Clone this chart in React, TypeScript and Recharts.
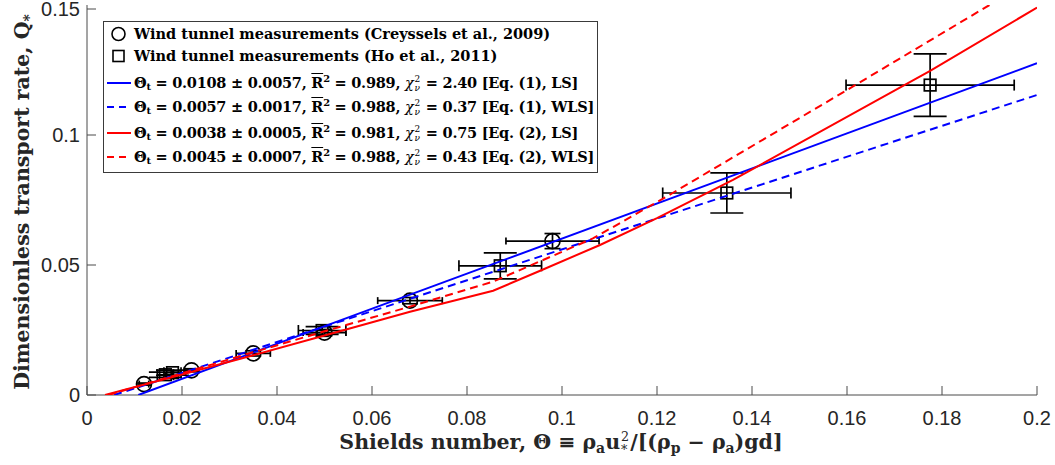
import React from 'react'
import { ScatterChart, Scatter, XAxis, YAxis, ErrorBar } from 'recharts'

const xTicks = [0, 0.02, 0.04, 0.06, 0.08, 0.1, 0.12, 0.14, 0.16, 0.18, 0.2]
const yTicks = [0, 0.05, 0.1, 0.15]

// Creyssels et al. (2009)
const creysselsTheta = [0.012, 0.022, 0.035, 0.05, 0.068, 0.098]
const creysselsQ = [0.0042, 0.0095, 0.016, 0.024, 0.0363, 0.0592]
const creysselsErrTheta = [0.001, 0.0015, 0.0036, 0.0045, 0.0068, 0.0098]
const creysselsErrQ = [0.0004, 0.0006, 0.001, 0.0012, 0.0012, 0.0029]

// Ho et al. (2011)
const hoTheta = [0.0165, 0.018, 0.0495, 0.087, 0.1347, 0.1775]
const hoQ = [0.0078, 0.0086, 0.0248, 0.0497, 0.0777, 0.1192]
const hoErrTheta = [0.0017, 0.0018, 0.005, 0.0087, 0.0135, 0.0177]
const hoErrQ = [0.001, 0.001, 0.0015, 0.005, 0.0077, 0.012]

// fits
const eq1LsTheta = [0.0108, 0.2]
const eq1LsQ = [0, 0.1276]
const eq1WlsTheta = [0.0057, 0.2]
const eq1WlsQ = [0, 0.1154]
const eq2LsTheta = [0.0038, 0.02, 0.035, 0.05, 0.068, 0.0855, 0.0954, 0.108, 0.12, 0.136, 0.1775, 0.2]
const eq2LsQ = [0, 0.0079, 0.0153, 0.0229, 0.032, 0.0401, 0.0478, 0.0577, 0.068, 0.0827, 0.1247, 0.149]
const eq2WlsTheta = [0.0045, 0.05, 0.068, 0.0855, 0.1066, 0.122, 0.16, 0.19]
const eq2WlsQ = [0, 0.0245, 0.034, 0.0436, 0.0603, 0.0763, 0.1173, 0.15]

const BLUE = '#0000ff'
const RED = '#ff0000'
const AXIS = '#4a4a4a'
const TXT = '#262626'
const SANS = '"Liberation Sans", Arial, sans-serif'
const SERIF = '"DejaVu Serif", serif'
const LW = 2

const points = (xs: number[], ys: number[], ex?: number[], ey?: number[]) =>
  xs.map((x, i) => ({ x, y: ys[i], ex: ex ? ex[i] : 0, ey: ey ? ey[i] : 0 }))

const fmt = (v: number) => String(Number(v.toFixed(3)))

const BottomTick = (props: any) => {
  const { x, y, payload } = props
  return (
    <g>
      <line x1={x} x2={x} y1={y} y2={y - 9} stroke={AXIS} />
      <text x={x} y={y + 30} textAnchor="middle" fontFamily={SANS} fontSize={20} fill={TXT}>
        {fmt(payload.value)}
      </text>
    </g>
  )
}

const TopTick = (props: any) => {
  const { x, y } = props
  return <line x1={x} x2={x} y1={y} y2={y + 9} stroke={AXIS} />
}

const LeftTick = (props: any) => {
  const { x, y, payload } = props
  return (
    <g>
      <line x1={x} x2={x + 9} y1={y} y2={y} stroke={AXIS} />
      <text x={x - 7} y={y + 7} textAnchor="end" fontFamily={SANS} fontSize={20} fill={TXT}>
        {fmt(payload.value)}
      </text>
    </g>
  )
}

const RightTick = (props: any) => {
  const { x, y } = props
  return <line x1={x} x2={x - 9} y1={y} y2={y} stroke={AXIS} />
}

const CircleMark = (props: any) => (
  <circle cx={props.cx} cy={props.cy} r={7.5} fill="none" stroke="#000" strokeWidth={1.7} />
)
const SquareMark = (props: any) => (
  <rect x={props.cx - 5.8} y={props.cy - 5.8} width={11.6} height={11.6} fill="none" stroke="#000" strokeWidth={1.7} />
)
const NoMark = () => <g />

function SupSub({ sup, sub }: { sup: string; sub: string }) {
  return (
    <span
      style={{
        display: 'inline-flex',
        flexDirection: 'column',
        verticalAlign: 'middle',
        fontSize: '0.62em',
        lineHeight: 1,
        margin: '0 1px',
        fontWeight: 400,
        fontStyle: 'italic',
      }}
    >
      <span style={{ fontStyle: 'normal' }}>{sup}</span>
      <span>{sub}</span>
    </span>
  )
}

const small: React.CSSProperties = { fontSize: '0.68em', lineHeight: 0, position: 'relative' }

function FitText({ t, err, r2, chi, eq, kind }: any) {
  return (
    <span style={{ letterSpacing: '-0.25px' }}>
      Θ<span style={{ ...small, top: '0.3em' }}>t</span> = {t} ± {err},{' '}
      <span style={{ textDecoration: 'overline' }}>R</span>
      <span style={{ ...small, top: '-0.6em' }}>2</span> = {r2},{' '}
      <i style={{ fontWeight: 400 }}>χ</i>
      <SupSub sup="2" sub="ν" /> = {chi} [Eq. ({eq}), {kind}]
    </span>
  )
}

function LegendBox() {
  const rows: { c: number; sample: React.ReactNode; text: React.ReactNode }[] = [
    {
      c: 11.5,
      sample: <circle cx={14.5} cy={11} r={6.5} fill="none" stroke="#000" strokeWidth={1.6} />,
      text: 'Wind tunnel measurements (Creyssels et al., 2009)',
    },
    {
      c: 33.5,
      sample: <rect x={9} y={5.5} width={11} height={11} fill="none" stroke="#000" strokeWidth={1.6} />,
      text: 'Wind tunnel measurements (Ho et al., 2011)',
    },
    {
      c: 61,
      sample: <line x1={3} x2={27} y1={11} y2={11} stroke={BLUE} strokeWidth={LW} />,
      text: <FitText t="0.0108" err="0.0057" r2="0.989" chi="2.40" eq="1" kind="LS" />,
    },
    {
      c: 85,
      sample: <line x1={3} x2={27} y1={11} y2={11} stroke={BLUE} strokeWidth={LW} strokeDasharray="7 5" />,
      text: <FitText t="0.0057" err="0.0017" r2="0.988" chi="0.37" eq="1" kind="WLS" />,
    },
    {
      c: 111,
      sample: <line x1={3} x2={27} y1={11} y2={11} stroke={RED} strokeWidth={LW} />,
      text: <FitText t="0.0038" err="0.0005" r2="0.981" chi="0.75" eq="2" kind="LS" />,
    },
    {
      c: 135,
      sample: <line x1={3} x2={27} y1={11} y2={11} stroke={RED} strokeWidth={LW} strokeDasharray="7 5" />,
      text: <FitText t="0.0045" err="0.0007" r2="0.988" chi="0.43" eq="2" kind="WLS" />,
    },
  ]
  return (
    <div
      style={{
        position: 'absolute',
        left: 103,
        top: 21,
        width: 495,
        height: 152,
        boxSizing: 'border-box',
        border: '1px solid #3a3a3a',
        background: '#fff',
        fontFamily: SERIF,
        fontWeight: 700,
        fontSize: 14.5,
        color: '#000',
      }}
    >
      {rows.map((r, i) => (
        <div
          key={i}
          style={{ position: 'absolute', left: 0, top: r.c - 11, height: 22, display: 'flex', alignItems: 'center', whiteSpace: 'nowrap' }}
        >
          <svg width={30} height={22} style={{ flex: 'none' }}>
            {r.sample}
          </svg>
          {r.text}
        </div>
      ))}
    </div>
  )
}

export default function App() {
  const creyssels = points(creysselsTheta, creysselsQ, creysselsErrTheta, creysselsErrQ)
  const ho = points(hoTheta, hoQ, hoErrTheta, hoErrQ)
  const eq1Ls = points(eq1LsTheta, eq1LsQ)
  const eq1Wls = points(eq1WlsTheta, eq1WlsQ)
  const eq2Ls = points(eq2LsTheta, eq2LsQ)
  const eq2Wls = points(eq2WlsTheta, eq2WlsQ)

  return (
    <div style={{ position: 'absolute', left: 0, top: 0, width: 1055, height: 465, background: '#fff' }}>
      <ScatterChart width={1055} height={465} margin={{ top: 5, right: 18, bottom: 0, left: 0 }}>
        <XAxis
          xAxisId="b"
          type="number"
          dataKey="x"
          domain={[0, 0.2]}
          ticks={xTicks}
          allowDataOverflow
          height={70}
          tickSize={0}
          tickMargin={0}
          tickLine={false}
          axisLine={{ stroke: AXIS }}
          tick={<BottomTick />}
        />
        <XAxis
          xAxisId="t"
          orientation="top"
          type="number"
          dataKey="x"
          domain={[0, 0.2]}
          ticks={xTicks}
          allowDataOverflow
          height={0}
          tickSize={0}
          tickMargin={0}
          tickLine={false}
          axisLine={{ stroke: AXIS }}
          tick={<TopTick />}
        />
        <YAxis
          yAxisId="l"
          type="number"
          dataKey="y"
          domain={[0, 0.15]}
          ticks={yTicks}
          allowDataOverflow
          width={87}
          tickSize={0}
          tickMargin={0}
          tickLine={false}
          axisLine={{ stroke: AXIS }}
          tick={<LeftTick />}
        />
        <YAxis
          yAxisId="r"
          orientation="right"
          type="number"
          dataKey="y"
          domain={[0, 0.15]}
          ticks={yTicks}
          allowDataOverflow
          width={0}
          tickSize={0}
          tickMargin={0}
          tickLine={false}
          axisLine={{ stroke: AXIS }}
          tick={<RightTick />}
        />
        <Scatter xAxisId="b" yAxisId="l" data={creyssels} shape={<CircleMark />} isAnimationActive={false}>
          <ErrorBar dataKey="ex" direction="x" width={3.5} stroke="#000" strokeWidth={1.7} />
          <ErrorBar dataKey="ey" direction="y" width={8} stroke="#000" strokeWidth={1.7} />
        </Scatter>
        <Scatter xAxisId="b" yAxisId="l" data={ho} shape={<SquareMark />} isAnimationActive={false}>
          <ErrorBar dataKey="ex" direction="x" width={5.5} stroke="#000" strokeWidth={1.7} />
          <ErrorBar dataKey="ey" direction="y" width={16.5} stroke="#000" strokeWidth={1.7} />
        </Scatter>
        <Scatter xAxisId="b" yAxisId="l" data={eq1Ls} shape={NoMark} line={{ stroke: BLUE, strokeWidth: LW }} isAnimationActive={false} />
        <Scatter
          xAxisId="b"
          yAxisId="l"
          data={eq1Wls}
          shape={NoMark}
          line={{ stroke: BLUE, strokeWidth: LW, strokeDasharray: '8 5' }}
          isAnimationActive={false}
        />
        <Scatter xAxisId="b" yAxisId="l" data={eq2Ls} shape={NoMark} line={{ stroke: RED, strokeWidth: LW }} isAnimationActive={false} />
        <Scatter
          xAxisId="b"
          yAxisId="l"
          data={eq2Wls}
          shape={NoMark}
          line={{ stroke: RED, strokeWidth: LW, strokeDasharray: '8 5' }}
          isAnimationActive={false}
        />
      </ScatterChart>
      <LegendBox />
      <div
        style={{
          position: 'absolute',
          left: 22,
          top: 202,
          transform: 'translate(-50%, -50%) rotate(-90deg)',
          whiteSpace: 'nowrap',
          fontFamily: SERIF,
          fontWeight: 700,
          fontSize: 20.5,
          color: TXT,
        }}
      >
        Dimensionless transport rate, Q<span style={{ ...small, top: '0.35em' }}>*</span>
      </div>
      <div
        style={{
          position: 'absolute',
          left: 561,
          top: 443,
          transform: 'translate(-50%, -50%)',
          whiteSpace: 'nowrap',
          fontFamily: SERIF,
          fontWeight: 700,
          fontSize: 20.5,
          color: TXT,
        }}
      >
        Shields number, Θ ≡ ρ<span style={{ ...small, top: '0.3em' }}>a</span>u
        <SupSub sup="2" sub="*" />/[(ρ<span style={{ ...small, top: '0.3em' }}>p</span> − ρ
        <span style={{ ...small, top: '0.3em' }}>a</span>)gd]
      </div>
    </div>
  )
}
